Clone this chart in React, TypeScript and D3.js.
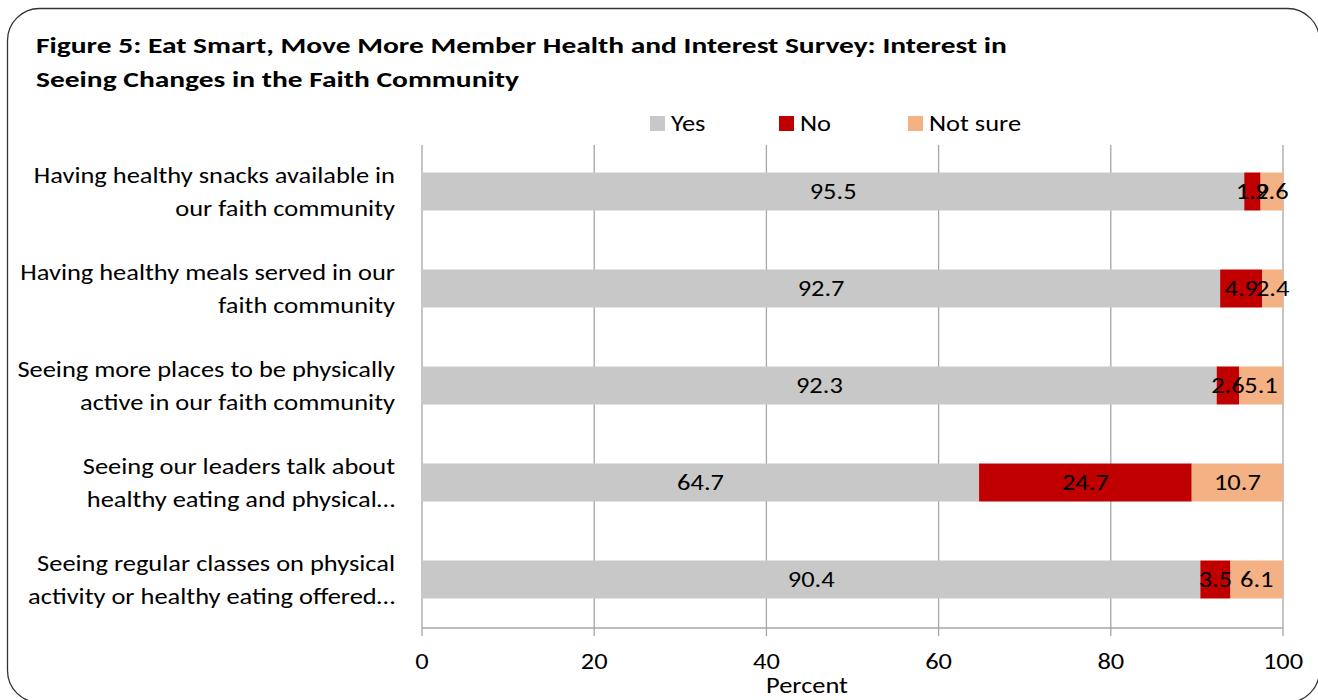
import React from "react";
import * as d3 from "d3";

const categories = [
  ["Having healthy snacks available in", "our faith community"],
  ["Having healthy meals served in our", "faith community"],
  ["Seeing more places to be physically", "active in our faith community"],
  ["Seeing our leaders talk about", "healthy eating and physical…"],
  ["Seeing regular classes on physical", "activity or healthy eating offered…"],
];
const seriesNames = ["Yes", "No", "Not sure"];
const yesValues = [95.5, 92.7, 92.3, 64.7, 90.4];
const noValues = [1.9, 4.9, 2.6, 24.7, 3.5];
const notSureValues = [2.6, 2.4, 5.1, 10.7, 6.1];
const xTicks = [0, 20, 40, 60, 80, 100];
const colors = ["#C8C8C8", "#C00000", "#F4B183"];
const titleLines = [
  "Figure 5: Eat Smart, Move More Member Health and Interest Survey: Interest in",
  "Seeing Changes in the Faith Community",
];

const FONT = "Carlito, Calibri, Lato, 'Open Sans', sans-serif";
const SX = 1.23;

function T({ x, y, children, size = 21.5, anchor = "start", weight = "normal", sx = SX }: any) {
  return (
    <g transform={`translate(${x},${y}) scale(${sx},1)`}>
      <text x={0} y={0} fontSize={size} fontWeight={weight} textAnchor={anchor} fill="#000">{children}</text>
    </g>
  );
}

export default function App() {
  const W = 1318, H = 700;
  const x = d3.scaleLinear().domain([0, 100]).range([422, 1283]);
  const top = 143, bottom = 628;
  const band = (bottom - top) / categories.length;
  const barH = 38;
  const rows = categories.map((c, i) => {
    const vals = [yesValues[i], noValues[i], notSureValues[i]];
    let acc = 0;
    const segs = vals.map((v, k) => {
      const s = { x0: acc, x1: acc + v, v, k };
      acc += v;
      return s;
    });
    return { c, i, segs, cy: top + band * (i + 0.5) };
  });
  return (
    <svg width={W} height={H} style={{ position: "absolute", left: 0, top: 0 }} fontFamily={FONT}>
      <rect x={0} y={0} width={W} height={H} fill="#fff" />
      <rect x={7.5} y={8.5} width={1312} height={694} rx={32} ry={32} fill="none" stroke="#333" strokeWidth={1.3} />
      {titleLines.map((t, i) => (
        <T key={i} x={36} y={53 + i * 34} size={22.5} weight="bold" sx={1.31}>{t}</T>
      ))}
      {seriesNames.map((s, i) => {
        const lx = [650, 779, 908][i];
        return (
          <g key={s}>
            <rect x={lx} y={116} width={15} height={15} fill={colors[i]} />
            <T x={lx + 21} y={131}>{s}</T>
          </g>
        );
      })}
      {xTicks.map((t) => (
        <line key={t} x1={x(t)} x2={x(t)} y1={145} y2={636} stroke="#A6A6A6" strokeWidth={1.3} />
      ))}
      <line x1={x(0)} x2={x(100)} y1={bottom} y2={bottom} stroke="#A6A6A6" strokeWidth={1.3} />
      {xTicks.map((t) => (
        <T key={"l" + t} x={x(t)} y={669} anchor="middle">{t}</T>
      ))}
      <T x={807} y={693} anchor="middle">Percent</T>
      {rows.map((r) => (
        <g key={r.i}>
          {r.segs.map((s) => (
            <rect key={s.k} x={x(s.x0)} y={r.cy - barH / 2} width={Math.min(x(s.x1), x(100)) - x(s.x0)} height={barH} fill={colors[s.k]} />
          ))}
          {r.segs.map((s) => (
            <T key={"t" + s.k} x={x((s.x0 + Math.min(s.x1, 100)) / 2)} y={r.cy + 7} anchor="middle">{s.v.toFixed(1)}</T>
          ))}
          {r.c.map((line, j) => (
            <T key={"c" + j} x={395} y={r.cy - 9 + j * 33} anchor="end">{line}</T>
          ))}
        </g>
      ))}
    </svg>
  );
}
